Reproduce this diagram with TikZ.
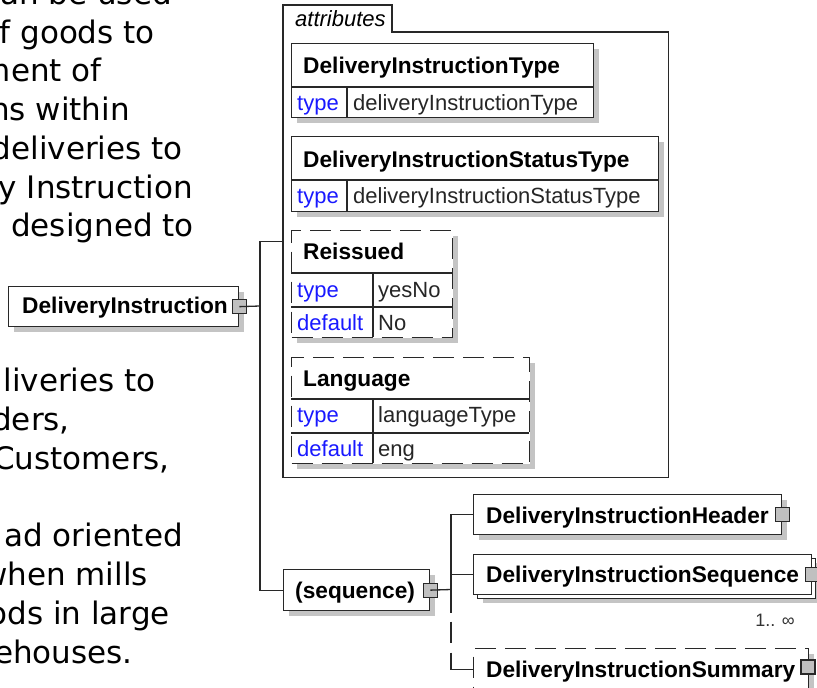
\documentclass[tikz,border=0pt]{standalone}
\usepackage{fontspec}
\setmainfont{Liberation Sans}
\newfontfamily\parafont{DejaVu Sans}
\usetikzlibrary{shadows}
\definecolor{shgray}{RGB}{196,196,196}
\definecolor{icongray}{RGB}{192,192,192}
\definecolor{linecol}{RGB}{40,40,40}
\definecolor{lblblue}{RGB}{25,25,255}
\tikzset{
  elplain/.style={draw=linecol, line width=1.3pt, fill=white, inner sep=0, anchor=north west},
  elbox/.style={elplain, drop shadow={shadow xshift=5pt, shadow yshift=-5pt, fill=shgray, opacity=1}},
  dashbox/.style={elbox, dash pattern=on 21pt off 9pt},
  icon/.style={draw=linecol, line width=1.1pt, fill=icongray, minimum size=14pt, inner sep=0},
  ename/.style={font=\fontsize{22.7}{27}\selectfont\bfseries, anchor=base west, inner sep=0},
  akey/.style={font=\fontsize{22}{26}\selectfont, text=lblblue, anchor=base west, inner sep=0},
  aval/.style={font=\fontsize{22}{26}\selectfont, text=black!85, anchor=base west, inner sep=0},
  para/.style={font=\parafont\fontsize{31}{36}\selectfont, anchor=base east, inner sep=0},
  conn/.style={draw=linecol, line width=1.3pt},
  inner/.style={draw=linecol, line width=1.3pt},
}
\begin{document}
\begin{tikzpicture}[x=1pt,y=-1pt]
\clip (0,0) rectangle (817,688);
\fill[white] (0,0) rectangle (817,688);

% paragraph fragments
\node[para] (p0) at (172,4.4) {an be used};
\node[para] (p1) at (155,43.15) {f goods to};
\node[para] (p2) at (102,81.9) {ment of};
\node[para] (p3) at (130,120.65) {ns within};
\node[para] (p4) at (183,159.4) {deliveries to};
\node[para] (p5) at (193,198.15) {y Instruction};
\node[para] (p6) at (194,236.9) {designed to};
\node[para] (p10) at (156,391.9) {liveries to};
\node[para] (p11) at (70,430.65) {ders,};
\node[para] (p12) at (170,469.4) {Customers,};
\node[para] (p14) at (183,546.9) {ad oriented};
\node[para] (p15) at (148,585.65) {when mills};
\node[para] (p16) at (170,624.4) {ods in large};
\node[para] (p17) at (133,663.15) {ehouses.};

% root element
\node[elbox, minimum width=230pt, minimum height=40pt] (di) at (8,286) {};
\node[ename] (dit) at (22,313) {DeliveryInstruction};
\node[icon] (disq) at (di.east) {};
\coordinate (j1) at (260,306);

% attributes container
\node[inner sep=0, minimum width=385pt, minimum height=472pt, anchor=north west] (attrs) at (283,5) {};
\draw[conn] (attrs.south west) -- (attrs.north west) -- ++(109,0) -- ++(0,27) -| (attrs.south east) -- cycle;
\node[font=\fontsize{22}{26}\selectfont\itshape, anchor=base west, inner sep=0] (attrlbl) at (295,27) {attributes};

% DeliveryInstructionType
\node[elbox, minimum width=302pt, minimum height=74pt] (at1) at (291,43) {};
\draw[inner] (291,87) -- (593,87) (347,87) -- (347,117);
\node[ename] (at1n) at (303,73) {DeliveryInstructionType};
\node[akey] (at1k) at (297,110) {type};
\node[aval] (at1v) at (353,110) {deliveryInstructionType};

% DeliveryInstructionStatusType
\node[elbox, minimum width=367pt, minimum height=75pt] (at2) at (291,136) {};
\draw[inner] (291,180) -- (658,180) (347,180) -- (347,211);
\node[ename] (at2n) at (303,167) {DeliveryInstructionStatusType};
\node[akey] (at2k) at (297,203) {type};
\node[aval] (at2v) at (353,203) {deliveryInstructionStatusType};

% Reissued
\node[dashbox, minimum width=161pt, minimum height=107pt] (at3) at (291,230) {};
\draw[inner] (291,273) -- (452,273) (291,307) -- (452,307) (373,273) -- (373,337);
\node[ename] (at3n) at (303,259) {Reissued};
\node[akey] (at3k1) at (297,297) {type};
\node[aval] (at3v1) at (378,297) {yesNo};
\node[akey] (at3k2) at (297,330) {default};
\node[aval] (at3v2) at (378,330) {No};

% Language
\node[dashbox, minimum width=238pt, minimum height=106pt] (at4) at (291,357) {};
\draw[inner] (291,399) -- (529,399) (291,433) -- (529,433) (373,399) -- (373,463);
\node[ename] (at4n) at (303,386) {Language};
\node[akey] (at4k1) at (297,422) {type};
\node[aval] (at4v1) at (378,422) {languageType};
\node[akey] (at4k2) at (297,456) {default};
\node[aval] (at4v2) at (378,456) {eng};

% sequence compositor
\node[elbox, minimum width=146pt, minimum height=41pt] (seq) at (283,569) {};
\node[ename] (seqt) at (295,598) {(sequence)};
\node[icon] (seqsq) at (seq.east) {};
\coordinate (j2) at (451,589.5);

% child elements
\node[elbox, minimum width=308pt, minimum height=40pt] (hdr) at (473,494) {};
\node[ename] (hdrt) at (486,523) {DeliveryInstructionHeader};
\node[icon] (hdrsq) at (hdr.east) {};

\node[elbox, minimum width=338pt, minimum height=40pt] (seqnb) at (477,557.5) {};
\node[elplain, minimum width=338pt, minimum height=40pt] (seqnf) at (473,554) {};
\node[ename] (seqnt) at (486,582) {DeliveryInstructionSequence};
\node[icon] (seqnsq) at (seqnf.east) {};
\node[font=\fontsize{18}{20}\selectfont, text=black!80, anchor=base east, inner sep=0] (occ) at (795,626) {1.. ∞};

\node[dashbox, minimum width=335pt, minimum height=42pt] (sum) at (473,648) {};
\node[ename] (sumt) at (486,677) {DeliveryInstructionSummary};
\node[icon] (sumsq) at (808,667) {};

% connectors
\draw[conn] (disq.center) -- (j1);
\draw[conn] (j1) |- (attrs.west);
\draw[conn] (j1) |- (seq.west);
\draw[conn] (seqsq.center) -- (j2);
\draw[conn] (j2) |- (hdr.west);
\draw[conn] (j2) |- (seqnf.west);
\draw[conn, dash pattern=on 23pt off 9pt on 21pt off 10pt on 60pt off 1pt] (j2) |- (sum.west);
\end{tikzpicture}
\end{document}
